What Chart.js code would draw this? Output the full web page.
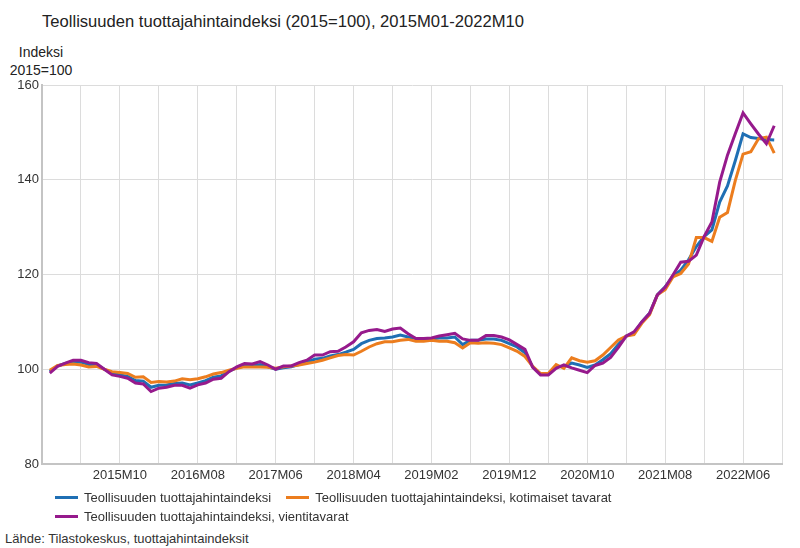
<!DOCTYPE html>
<html lang="fi">

<head>
    <meta charset="UTF-8" />
    <meta name="viewport" content="width=device-width, initial-scale=1.0" />
    <title>Teollisuuden tuottajahintaindeksi</title>
    <script src="https://cdn.jsdelivr.net/npm/chart.js@4.4.1/dist/chart.umd.min.js"></script>
    <style>
        body {
            margin: 0;
            width: 800px;
            height: 548px;
            position: relative;
            background: #fff;
            font-family: "Liberation Sans", Arial, sans-serif;
            color: #222;
        }

        .title {
            position: absolute;
            left: 42px;
            top: 12px;
            font-size: 16.6px;
        }

        .ytitle {
            position: absolute;
            left: 1px;
            width: 80px;
            top: 43px;
            font-size: 14px;
            line-height: 18px;
            text-align: center;
        }

        .chart-box {
            position: absolute;
            left: 0;
            top: 0;
            width: 800px;
            height: 490px;
        }

        .legend {
            position: absolute;
            left: 55px;
            top: 488px;
            width: 600px;
            display: flex;
            flex-wrap: wrap;
            font-size: 13px;
            color: #333;
        }

        .legend-item {
            display: flex;
            align-items: center;
            height: 19px;
            margin-right: 15px;
        }

        .legend-item span.swatch {
            display: inline-block;
            width: 23px;
            height: 3px;
            margin-right: 6px;
        }

        .source {
            position: absolute;
            left: 5px;
            top: 531px;
            font-size: 13px;
            color: #333;
        }
    </style>
</head>

<body>
    <div class="title">Teollisuuden tuottajahintaindeksi (2015=100), 2015M01-2022M10</div>
    <div class="ytitle">Indeksi<br />2015=100</div>
    <div class="chart-box">
        <canvas id="lineChart"></canvas>
    </div>
    <div class="legend" id="legend"></div>
    <div class="source">Lähde: Tilastokeskus, tuottajahintaindeksit</div>

    <script>
        // months 2015M01 ... 2022M10
        const months = [];
        for (let y = 2015; y <= 2022; y++) {
            for (let m = 1; m <= 12; m++) {
                if (y === 2022 && m > 10) break;
                months.push(y + 'M' + String(m).padStart(2, '0'));
            }
        }

        const tickLabels = ['2015M10', '2016M08', '2017M06', '2018M04', '2019M02',
            '2019M12', '2020M10', '2021M08', '2022M06'];

        const seriesNames = [
            'Teollisuuden tuottajahintaindeksi',
            'Teollisuuden tuottajahintaindeksi, kotimaiset tavarat',
            'Teollisuuden tuottajahintaindeksi, vientitavarat'
        ];

        // Teollisuuden tuottajahintaindeksi
        const total = [
            99.5, 100.7, 101.2, 101.6, 101.5, 101.0, 101.0, 100.0, 99.1, 98.8, 98.5, 97.6,
            97.5, 96.2, 96.6, 96.7, 97.0, 97.1, 96.7, 97.1, 97.6, 98.3, 98.6, 99.6,
            100.3, 100.8, 100.7, 101.0, 100.5, 100.0, 100.3, 100.5, 101.0, 101.5, 102.1, 102.3,
            102.8, 103.1, 103.6, 104.2, 105.4, 106.1, 106.5, 106.6, 106.8, 107.2, 106.8, 106.5,
            106.4, 106.4, 106.6, 106.6, 106.8, 105.2, 106.1, 106.1, 106.4, 106.4, 106.1, 105.4,
            104.7, 103.5, 100.5, 99.0, 99.0, 100.6, 100.6, 101.3, 100.9, 100.4, 100.9, 102.0,
            103.3, 105.3, 107.0, 107.6, 110.0, 111.8, 115.7, 117.4, 119.6, 120.9, 123.1, 125.9,
            128.0, 129.4, 135.3, 138.7, 144.0, 149.7, 148.9, 148.7, 148.5, 148.4
        ];

        // kotimaiset tavarat
        const domestic = [
            99.8, 100.8, 101.0, 101.1, 100.9, 100.5, 100.6, 100.0, 99.5, 99.3, 99.1, 98.3,
            98.4, 97.2, 97.4, 97.3, 97.5, 98.0, 97.8, 98.0, 98.4, 99.0, 99.3, 99.8,
            100.2, 100.5, 100.5, 100.5, 100.4, 100.2, 100.5, 100.7, 100.9, 101.2, 101.5, 101.9,
            102.4, 102.9, 103.1, 103.0, 103.8, 104.7, 105.4, 105.8, 105.8, 106.1, 106.3, 105.9,
            105.9, 106.1, 105.9, 105.9, 105.6, 104.5, 105.6, 105.5, 105.6, 105.5, 105.2, 104.5,
            103.8, 102.7, 100.6, 99.1, 99.1, 101.0, 100.2, 102.4, 101.8, 101.5, 101.8, 103.0,
            104.6, 106.2, 107.0, 107.3, 109.7, 111.5, 115.7, 116.8, 119.5, 120.2, 122.2, 127.8,
            127.8, 127.0, 132.1, 133.1, 139.8, 145.4, 145.9, 148.7, 149.0, 145.6
        ];

        // vientitavarat
        const exports = [
            99.2, 100.6, 101.3, 101.9, 101.9, 101.4, 101.2, 100.0, 98.8, 98.5, 98.1, 97.1,
            96.9, 95.3, 96.0, 96.2, 96.6, 96.6, 96.0, 96.7, 97.1, 97.9, 98.1, 99.5,
            100.5, 101.2, 101.1, 101.6, 100.9, 100.0, 100.7, 100.7, 101.4, 101.9, 103.0, 103.0,
            103.7, 103.8, 104.7, 105.8, 107.7, 108.2, 108.4, 108.0, 108.5, 108.7, 107.5, 106.5,
            106.5, 106.6, 107.0, 107.3, 107.6, 106.4, 106.1, 106.1, 107.1, 107.1, 106.8, 106.2,
            105.2, 104.2, 100.4, 98.8, 98.8, 100.2, 100.9, 100.3, 99.8, 99.3, 100.8, 101.3,
            102.5, 104.6, 107.0, 107.9, 110.0, 111.8, 115.7, 117.3, 119.9, 122.6, 122.8, 124.1,
            128.0, 131.1, 139.5, 145.2, 149.7, 154.1, 151.8, 149.6, 147.6, 151.4
        ];

        const colors = ['#1f6fb4', '#ec7d1e', '#961a8c'];

        const toPoints = (values) => values.map((v, i) => ({ x: i, y: v }));

        document.addEventListener("DOMContentLoaded", function () {
            // Legend
            const legend = document.getElementById('legend');
            seriesNames.forEach((name, i) => {
                const item = document.createElement('div');
                item.className = 'legend-item';
                item.innerHTML = '<span class="swatch" style="background:' + colors[i] + '"></span>' + name;
                legend.appendChild(item);
            });

            const ctx = document.getElementById('lineChart').getContext('2d');
            new Chart(ctx, {
                type: 'line',
                data: {
                    datasets: [
                        {
                            label: seriesNames[0],
                            data: toPoints(total),
                            borderColor: colors[0],
                            order: 2
                        },
                        {
                            label: seriesNames[1],
                            data: toPoints(domestic),
                            borderColor: colors[1],
                            order: 1
                        },
                        {
                            label: seriesNames[2],
                            data: toPoints(exports),
                            borderColor: colors[2],
                            order: 0
                        }
                    ]
                },
                options: {
                    responsive: true,
                    maintainAspectRatio: false,
                    animation: false,
                    layout: {
                        padding: { top: 85, right: 18, left: 0, bottom: 0 }
                    },
                    elements: {
                        line: { borderWidth: 3, tension: 0, fill: false },
                        point: { radius: 0 }
                    },
                    plugins: {
                        legend: { display: false },
                        tooltip: { enabled: false }
                    },
                    scales: {
                        x: {
                            type: 'linear',
                            min: -1,
                            max: months.length,
                            afterFit: (scale) => { scale.height = 26; },
                            grid: { color: '#dcdcdc', drawTicks: false },
                            border: { color: '#c4c4c4', width: 2 },
                            ticks: {
                                stepSize: 5,
                                autoSkip: false,
                                maxRotation: 0,
                                padding: 4,
                                color: '#333',
                                font: { family: 'Liberation Sans', size: 13 },
                                callback: (value) => {
                                    const label = months[value];
                                    return tickLabels.includes(label) ? label : '';
                                }
                            }
                        },
                        y: {
                            min: 80,
                            max: 160,
                            afterFit: (scale) => { scale.width = 42; },
                            grid: { color: '#dcdcdc', drawTicks: false },
                            border: { color: '#c4c4c4', width: 2 },
                            ticks: {
                                stepSize: 20,
                                padding: 3,
                                color: '#333',
                                font: { family: 'Liberation Sans', size: 13 }
                            }
                        }
                    }
                }
            });
        });
    </script>
</body>

</html>
